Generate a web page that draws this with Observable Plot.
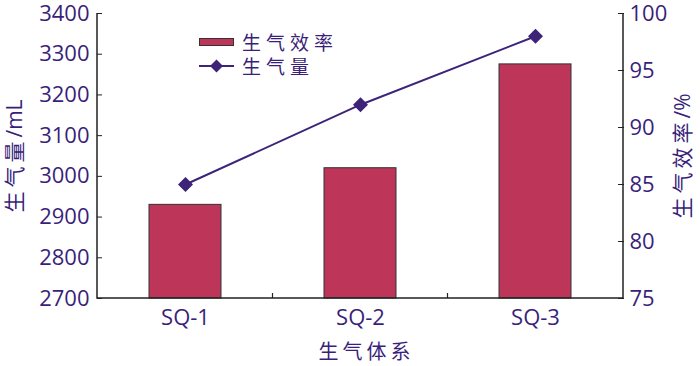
<!DOCTYPE html>
<html>
<head>
<meta charset="utf-8">
<script src="https://cdn.jsdelivr.net/npm/d3@7"></script>
<script src="https://cdn.jsdelivr.net/npm/@observablehq/plot@0.6"></script>
<style>
  body { margin: 0; background: #fff; }
  #wrap { position: relative; width: 700px; height: 366px; font-family: "Open Sans", "Noto Sans CJK SC", sans-serif; }
  .lg { position: absolute; left: 199px; height: 20px; line-height: 20px; display: flex; align-items: center; color: #3a1f7a; font-size: 19px; letter-spacing: 5px; font-family: "Noto Sans CJK SC", sans-serif; }
  .lg svg { margin-right: 8px; }
  .lg span { display: block; height: 20px; line-height: 20px; }
</style>
</head>
<body>
<div id="wrap"></div>
<script>
// ---- data ----
const categories = ["SQ-1", "SQ-2", "SQ-3"];
const barValues = [2930, 3020, 3275];      // bars, left axis (mL)
const lineValues = [85, 92, 98];           // line, right axis (%)
const leftTicks = [2700, 2800, 2900, 3000, 3100, 3200, 3300, 3400];
const rightTicks = [75, 80, 85, 90, 95, 100];
const leftDomain = [2700, 3400];
const rightDomain = [75, 100];
const leftTitle = "生气量/mL";
const rightTitle = "生气效率/%";
const xTitle = "生气体系";
const legendLabels = ["生气效率", "生气量"];

// ---- styles ----
const textColor = "#3a1f7a";
const barColor = "#bd3659";
const lineColor = "#3d2479";
const axisColor = "#222";

// map right-axis values onto the left (shared) y scale
const k = (leftDomain[1] - leftDomain[0]) / (rightDomain[1] - rightDomain[0]);
const toLeft = v => leftDomain[0] + (v - rightDomain[0]) * k;
const fromLeft = v => Math.round(rightDomain[0] + (v - leftDomain[0]) / k);

const bars = categories.map((c, i) => ({cat: c, value: barValues[i]}));
const pts = categories.map((c, i) => ({cat: c, value: toLeft(lineValues[i])}));

const plot = Plot.plot({
  width: 700,
  height: 366,
  marginLeft: 97,
  marginRight: 77,
  marginTop: 13,
  marginBottom: 68,
  style: { fontFamily: '"Open Sans", "Noto Sans CJK SC", sans-serif', fontSize: "22px", color: textColor, background: "transparent", overflow: "visible" },
  x: { type: "band", domain: categories, paddingInner: 0.59, paddingOuter: 0.295 },
  y: { domain: leftDomain },
  marks: [
    Plot.barY(bars, { x: "cat", y1: () => leftDomain[0], y2: "value", fill: barColor, stroke: "#333", strokeWidth: 1 }),
    Plot.line(pts, { x: "cat", y: "value", stroke: lineColor, strokeWidth: 2 }),
    Plot.dot(pts, { x: "cat", y: "value", symbol: "diamond2", r: 5.8, fill: lineColor, stroke: lineColor }),
    Plot.axisY({ anchor: "left", ticks: leftTicks, tickSize: -5, tickPadding: 13, stroke: axisColor, fill: textColor, label: null, tickFormat: d => String(d) }),
    Plot.axisY({ anchor: "right", ticks: rightTicks.map(toLeft), tickSize: -6, tickPadding: 12, stroke: axisColor, fill: textColor, label: null, tickFormat: d => String(fromLeft(d)) }),
    Plot.axisX({ anchor: "bottom", tickSize: 0, tickPadding: 11, fill: textColor, label: null }),
    Plot.text([leftTitle], { x: null, y: null, text: d => d, frameAnchor: "left", rotate: -90, dx: -82, fill: textColor, fontSize: 21, textAnchor: "middle", lineAnchor: "middle" }),
    Plot.text([rightTitle], { x: null, y: null, text: d => d, frameAnchor: "right", rotate: -90, dx: 60, fill: textColor, fontSize: 21, textAnchor: "middle", lineAnchor: "middle" }),
    Plot.text([xTitle], { x: null, y: null, text: d => d, frameAnchor: "bottom", dx: 6, dy: 54, fill: textColor, fontSize: 20, textAnchor: "middle", lineAnchor: "middle" })
  ]
});

// axis lines and between-category ticks, drawn from the plot's own scales
const xs = plot.scale("x"), ys = plot.scale("y");
const [x0, x1] = xs.range;
const yb = ys.apply(leftDomain[0]), yt = ys.apply(leftDomain[1]);
const svg = d3.select(plot);
svg.append("path")
  .attr("d", `M${x0},${yt}V${yb}H${x1}V${yt}`)
  .attr("fill", "none").attr("stroke", axisColor).attr("stroke-width", 1.5);
for (let i = 0; i < categories.length - 1; i++) {
  const bx = (xs.apply(categories[i]) + xs.bandwidth + xs.apply(categories[i + 1])) / 2;
  svg.append("line").attr("x1", bx).attr("x2", bx).attr("y1", yb).attr("y2", yb - 5)
    .attr("stroke", axisColor).attr("stroke-width", 1.2);
}
// letter spacing for CJK part of the titles only
svg.selectAll("text").filter(function() { return /[\u4e00-\u9fff]/.test(this.textContent); })
  .each(function() {
    const t = d3.select(this);
    const s = this.textContent;
    const m = s.match(/^([\u4e00-\u9fff]+)(.*)$/);
    if (!m) return;
    t.text(null);
    t.append("tspan").style("letter-spacing", "4px").text(m[1]);
    if (m[2]) t.append("tspan").text(m[2]);
  });

const wrap = document.getElementById("wrap");
wrap.appendChild(plot);

// legend (overlay inside the plot area)
const lg1 = document.createElement("div");
lg1.className = "lg"; lg1.style.top = "32px";
lg1.innerHTML = `<svg width="35" height="10"><rect x="0.5" y="1.5" width="34" height="7" fill="${barColor}" stroke="#333"/></svg><span>${legendLabels[0]}</span>`;
const lg2 = document.createElement("div");
lg2.className = "lg"; lg2.style.top = "56px";
lg2.innerHTML = `<svg width="35" height="14"><line x1="0" x2="35" y1="7" y2="7" stroke="${lineColor}" stroke-width="2"/><path d="M17.5,0.5L24,7L17.5,13.5L11,7Z" fill="${lineColor}"/></svg><span>${legendLabels[1]}</span>`;
wrap.appendChild(lg1);
wrap.appendChild(lg2);
</script>
</body>
</html>
